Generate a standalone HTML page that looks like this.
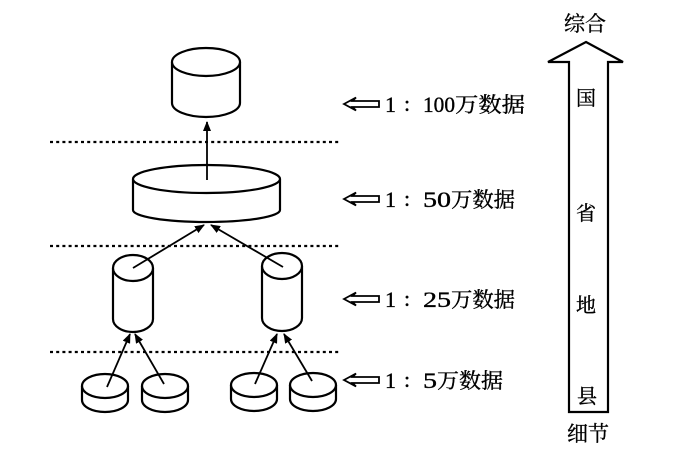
<!DOCTYPE html>
<html>
<head>
<meta charset="utf-8">
<style>
html,body{margin:0;padding:0;background:#fff;}
svg{display:block;}
.cjk{font-family:"Liberation Serif","Noto Serif CJK SC","Noto Sans CJK SC",serif;}
</style>
</head>
<body>
<svg width="700" height="450" viewBox="0 0 700 450" xmlns="http://www.w3.org/2000/svg">
<defs>
<marker id="ah" markerWidth="10" markerHeight="8" refX="9" refY="4" orient="auto" markerUnits="userSpaceOnUse">
<path d="M0,0 L10,4 L0,8 Z" fill="#000"/>
</marker>
</defs>
<rect width="700" height="450" fill="#fff"/>

<!-- dotted lines -->
<g stroke="#000" stroke-width="2.2" stroke-dasharray="3,3.2">
<line x1="50" y1="142" x2="341" y2="142"/>
<line x1="50" y1="246" x2="341" y2="246"/>
<line x1="50" y1="352" x2="341" y2="352"/>
</g>

<g fill="#fff" stroke="#000" stroke-width="2.2">
<!-- top cylinder -->
<path d="M172,62 V103 A34,14 0 0 0 240,103 V62"/>
<ellipse cx="206" cy="62" rx="34" ry="14"/>
<!-- big disc -->
<path d="M133,179 V210 A73.5,12 0 0 0 280,210 V179"/>
<ellipse cx="206.5" cy="179" rx="73.5" ry="14"/>
<!-- tall cylinders -->
<path d="M113,268 V319 A20,13 0 0 0 153,319 V268"/>
<ellipse cx="133" cy="268" rx="20" ry="13"/>
<path d="M262,266 V318 A20,13 0 0 0 302,318 V266"/>
<ellipse cx="282" cy="266" rx="20" ry="13"/>
<!-- small discs -->
<path d="M82,386 V400 A23,12 0 0 0 128,400 V386"/>
<ellipse cx="105" cy="386" rx="23" ry="12"/>
<path d="M142,386 V400 A23,12 0 0 0 188,400 V386"/>
<ellipse cx="165" cy="386" rx="23" ry="12"/>
<path d="M231,385 V399 A23,12 0 0 0 277,399 V385"/>
<ellipse cx="254" cy="385" rx="23" ry="12"/>
<path d="M290,385 V399 A23,12 0 0 0 336,399 V385"/>
<ellipse cx="313" cy="385" rx="23" ry="12"/>
</g>

<!-- arrows -->
<g stroke="#000" stroke-width="1.8" marker-end="url(#ah)">
<line x1="207" y1="180" x2="207" y2="122"/>
<line x1="133" y1="268" x2="204" y2="225"/>
<line x1="283" y1="267" x2="211" y2="225"/>
<line x1="107" y1="387" x2="130" y2="334"/>
<line x1="164" y1="384" x2="135" y2="334"/>
<line x1="255" y1="384" x2="277" y2="334"/>
<line x1="312" y1="381" x2="284" y2="334"/>
</g>

<!-- label arrows (hollow ⇐) -->
<g fill="#fff" stroke="#000" stroke-width="1.8" stroke-linejoin="miter">
<path d="M344,104 L356,97.5 L352.5,101 H379 V107 H352.5 L356,110.5 Z"/>
<path d="M344,199 L356,192.5 L352.5,196 H379 V202 H352.5 L356,205.5 Z"/>
<path d="M344,299 L356,292.5 L352.5,296 H379 V302 H352.5 L356,305.5 Z"/>
<path d="M344,380 L356,373.5 L352.5,377 H379 V383 H352.5 L356,386.5 Z"/>
</g>

<!-- label texts -->
<g class="cjk" font-size="22" fill="#000" stroke="#000" stroke-width="0.35">
<text x="385" y="112">1</text>
<text x="404" y="111">:</text>
<text x="423" y="112" textLength="32" lengthAdjust="spacingAndGlyphs">100</text>
<text x="455" y="112" font-size="21" textLength="70" lengthAdjust="spacingAndGlyphs">万数据</text>

<text x="385" y="207">1</text>
<text x="404" y="206">:</text>
<text x="423" y="207" textLength="28" lengthAdjust="spacingAndGlyphs">50</text>
<text x="451" y="207" font-size="21" textLength="64" lengthAdjust="spacingAndGlyphs">万数据</text>

<text x="385" y="307">1</text>
<text x="404" y="306">:</text>
<text x="423" y="307" textLength="28" lengthAdjust="spacingAndGlyphs">25</text>
<text x="451" y="307" font-size="21" textLength="64" lengthAdjust="spacingAndGlyphs">万数据</text>

<text x="385" y="388">1</text>
<text x="404" y="387">:</text>
<text x="423" y="388" textLength="14" lengthAdjust="spacingAndGlyphs">5</text>
<text x="437" y="388" font-size="21" textLength="66" lengthAdjust="spacingAndGlyphs">万数据</text>
</g>

<!-- big arrow -->
<path d="M586,42 L623,62 H608 V412 H569 V62 H548 Z" fill="#fff" stroke="#000" stroke-width="2.2" stroke-linejoin="miter"/>

<g class="cjk" fill="#000" stroke="#000" stroke-width="0.35" text-anchor="middle">
<text x="585" y="31" font-size="21">综合</text>
<text x="586" y="105" font-size="20">国</text>
<text x="586" y="220" font-size="20">省</text>
<text x="586" y="312" font-size="20">地</text>
<text x="587" y="403" font-size="20">县</text>
<text x="588" y="441" font-size="21">细节</text>
</g>
</svg>
</body>
</html>
